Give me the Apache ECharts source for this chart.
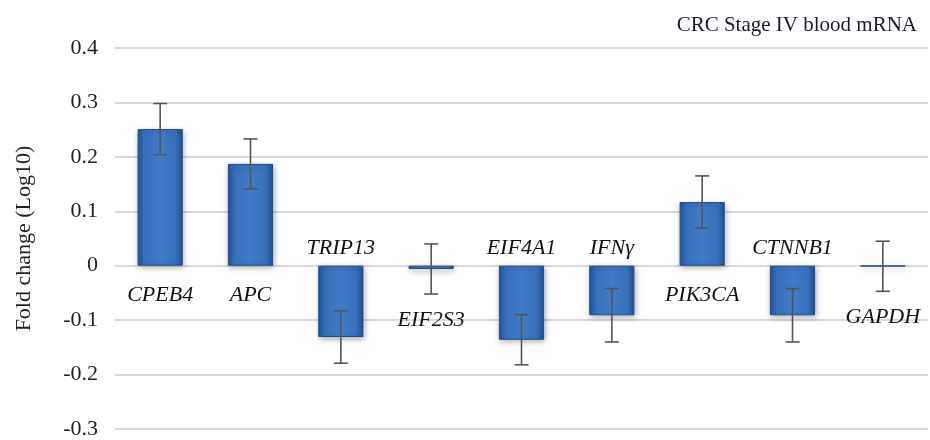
<!DOCTYPE html>
<html>
<head>
<meta charset="utf-8">
<script src="https://cdn.jsdelivr.net/npm/echarts@6/dist/echarts.min.js"></script>
<style>
  html, body { margin: 0; padding: 0; background: #fff; }
  #chart { width: 930px; height: 440px; }
</style>
</head>
<body>
<div id="chart"></div>
<script>
// data
const genes = ['CPEB4', 'APC', 'TRIP13', 'EIF2S3', 'EIF4A1', 'IFN\u03b3', 'PIK3CA', 'CTNNB1', 'GAPDH'];
const foldChange = [0.251, 0.187, -0.131, -0.006, -0.136, -0.091, 0.117, -0.091, -0.001];
const errSize = [0.047, 0.046, 0.048, 0.046, 0.046, 0.049, 0.048, 0.049, 0.046];
const yTicks = [-0.3, -0.2, -0.1, 0, 0.1, 0.2, 0.3, 0.4];

const chart = echarts.init(document.getElementById('chart'));

const serif = '"Liberation Serif", "DejaVu Serif", serif';

const errData = genes.map((g, i) => [i, foldChange[i], errSize[i]]);

const option = {
  animation: false,
  title: {
    text: 'CRC Stage IV blood mRNA',
    right: 8,
    top: 10,
    textStyle: { fontFamily: serif, fontSize: 21, fontWeight: 'normal', color: '#1a1a2e' }
  },
  grid: { left: 115, right: 2, top: 48, bottom: 10 },
  xAxis: {
    type: 'category',
    data: genes,
    axisLine: { show: false },
    axisTick: { show: false },
    axisLabel: { show: false }
  },
  yAxis: {
    type: 'value',
    min: yTicks[0],
    max: yTicks[yTicks.length - 1],
    interval: 0.1,
    name: 'Fold change (Log10)',
    nameLocation: 'middle',
    nameGap: 80,
    nameRotate: 90,
    nameTextStyle: { fontFamily: serif, fontSize: 22, color: '#222' },
    axisLine: { show: false },
    axisTick: { show: false },
    axisLabel: {
      fontFamily: serif, fontSize: 22, color: '#222', margin: 17,
      formatter: v => {
        const t = yTicks.find(x => Math.abs(x - v) < 1e-9);
        return t === undefined ? '' : String(t);
      }
    },
    splitLine: { lineStyle: { color: '#d9d9d9', width: 2 } }
  },
  series: [
    {
      type: 'bar',
      data: foldChange,
      barWidth: '50%',
      itemStyle: {
        color: new echarts.graphic.LinearGradient(0, 0, 1, 0, [
          { offset: 0, color: '#24569a' },
          { offset: 0.15, color: '#3670bb' },
          { offset: 0.5, color: '#3f7bc6' },
          { offset: 0.85, color: '#3670bb' },
          { offset: 1, color: '#21508f' }
        ]),
        borderColor: '#1f4c88',
        borderWidth: 1,
        shadowColor: 'rgba(0,0,0,0.3)',
        shadowBlur: 6,
        shadowOffsetX: 1,
        shadowOffsetY: 2
      },
      z: 2
    },
    {
      type: 'custom',
      data: errData,
      z: 5,
      renderItem: (params, api) => {
        const i = api.value(0);
        const v = api.value(1);
        const e = api.value(2);
        const hi = api.coord([i, v + e]);
        const lo = api.coord([i, v - e]);
        const zero = api.coord([i, 0]);
        const cap = 7;
        const ls = { stroke: '#555', lineWidth: 1.6 };
        let ly;
        if (Math.abs(v) < 0.02) ly = lo[1] + 26;
        else if (v > 0) ly = zero[1] + 30;
        else ly = zero[1] - 17;
        return {
          type: 'group',
          children: [
            { type: 'line', shape: { x1: hi[0], y1: hi[1], x2: lo[0], y2: lo[1] }, style: ls },
            { type: 'line', shape: { x1: hi[0] - cap, y1: hi[1], x2: hi[0] + cap, y2: hi[1] }, style: ls },
            { type: 'line', shape: { x1: lo[0] - cap, y1: lo[1], x2: lo[0] + cap, y2: lo[1] }, style: ls },
            {
              type: 'text',
              x: zero[0],
              y: ly,
              style: {
                text: genes[i],
                fontFamily: serif,
                fontStyle: 'italic',
                fontSize: 22,
                fill: '#111',
                align: 'center',
                verticalAlign: 'middle'
              }
            }
          ]
        };
      }
    }
  ]
};

chart.setOption(option);
</script>
</body>
</html>
